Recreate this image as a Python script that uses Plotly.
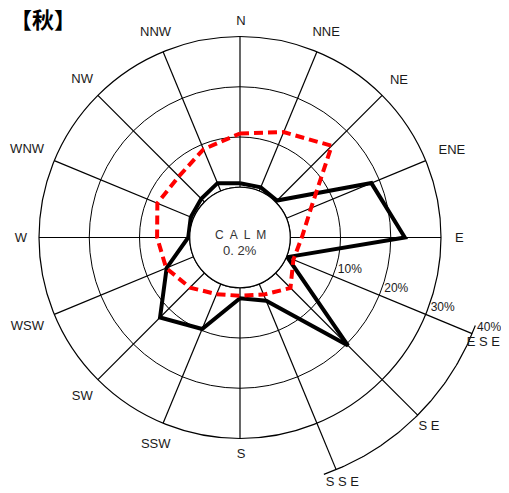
import math
import numpy as np
import plotly.graph_objects as go

# ---------------- data ----------------
directions = ['N', 'NNE', 'NE', 'ENE', 'E', 'ESE', 'SE', 'SSE',
              'S', 'SSW', 'SW', 'WSW', 'W', 'WNW', 'NW', 'NNW']
dir_labels = ['N', 'NNE', 'NE', 'ENE', 'E', 'E S E', 'S E', 'S S E',
              'S', 'SSW', 'SW', 'WSW', 'W', 'WNW', 'NW', 'NNW']
# black solid series (%)
freq_black = [0.8, 0.8, 0.4, 18.3, 22.8, 0.2, 20.4, 3.6,
              2.1, 9.7, 12.5, 5.8, 0.3, 0.6, 0.9, 1.7]
# red dashed series (%)
freq_red = [10.7, 12.7, 15.8, 5.3, 2.3, 1.5, 4.2, 2.3,
            1.6, 2.2, 4.1, 5.9, 6.5, 7.8, 7.2, 9.0]
ring_values = [10, 20, 30, 40]
ring_labels = ['10%', '20%', '30%', '40%']
calm_label = 'C\u2002A\u2002L\u2002M'
calm_value = '0. 2%'
title_text = '【秋】'
extended_dirs = ['ESE', 'SE', 'SSE']

# ---------------- geometry / style ----------------
FW, FH = 493, 485          # figure size (page body adds an 8px offset)
CX, CY = 232.0, 229.5      # rose centre in figure pixels
R_PX = 201.0               # radius of the 30 % ring
R_MAX = 30
HOLE = 0.25
HOLE_PX = R_PX * HOLE
S = (R_PX - HOLE_PX) / R_MAX          # pixels per percent
HOLE_U = HOLE_PX / S                  # hole radius in percent units
LABEL_SIZE = 13
LABEL_SHIFT = (1, -1)                 # px (right, up)
LINE_W = 1.2
FONT = 'Liberation Sans, Arial, sans-serif'
TXT = '#1a1a1a'

n = len(directions)
thetas = [360.0 * i / n for i in range(n)]
CHAR_W = {'N': .722, 'E': .667, 'S': .667, 'W': .944, ' ': .278}


def text_w(s, size):
    return sum(CHAR_W.get(c, .6) for c in s) * size


def xy(pct, th):
    u = pct + HOLE_U
    return u * math.sin(math.radians(th)), u * math.cos(math.radians(th))


fig = go.Figure()

# ---------- polar subplot: grid, spokes, CALM circle, series ----------
sp_r, sp_t = [], []
for th in thetas:
    sp_r += [0, R_MAX, None]
    sp_t += [th, th, None]
fig.add_trace(go.Scatterpolar(r=sp_r, theta=sp_t, mode='lines',
                              line=dict(color='black', width=LINE_W),
                              hoverinfo='skip', showlegend=False))
circ_t = np.linspace(0, 360, 361)
fig.add_trace(go.Scatterpolar(r=[0] * len(circ_t), theta=circ_t, mode='lines',
                              line=dict(color='black', width=LINE_W),
                              hoverinfo='skip', showlegend=False))
fig.add_trace(go.Scatterpolar(r=freq_black + freq_black[:1], theta=thetas + thetas[:1],
                              mode='lines', line=dict(color='black', width=4),
                              name='black', showlegend=False))
fig.add_trace(go.Scatterpolar(r=freq_red + freq_red[:1], theta=thetas + thetas[:1],
                              mode='lines', line=dict(color='#ff0000', width=4, dash='9px,5px'),
                              name='red', showlegend=False))

# ---------- cartesian overlay (same centre & scale): outer decorations ----------
ext_idx = [directions.index(d) for d in extended_dirs]
ex, ey = [], []
for i in ext_idx:
    x0, y0 = xy(R_MAX, thetas[i])
    x1, y1 = xy(ring_values[-1], thetas[i])
    ex += [x0, x1, None]
    ey += [y0, y1, None]
fig.add_trace(go.Scatter(x=ex, y=ey, mode='lines', line=dict(color='black', width=LINE_W),
                         hoverinfo='skip', showlegend=False))
arc_t = np.linspace(thetas[min(ext_idx)] - 2.0, thetas[max(ext_idx)] + 3.0, 80)
arc = [xy(ring_values[-1], t) for t in arc_t]
fig.add_trace(go.Scatter(x=[p[0] for p in arc], y=[p[1] for p in arc], mode='lines',
                         line=dict(color='black', width=LINE_W),
                         hoverinfo='skip', showlegend=False))

# direction labels
x_max_u = (FW - 1 - CX) / S
lx, ly = [], []
for d, lab, th in zip(directions, dir_labels, thetas):
    ext = d in extended_dirs
    end_px = HOLE_PX + (ring_values[-1] if ext else R_MAX) * S
    gap = 1 if ext else 10
    w = text_w(lab, LABEL_SIZE)
    hw = w / 2 + 3
    hh = 5.5
    s_, c_ = abs(math.sin(math.radians(th))), abs(math.cos(math.radians(th)))
    rr = (end_px + gap + hw * s_ + hh * c_) / S
    x = rr * math.sin(math.radians(th)) + LABEL_SHIFT[0] / S
    y = rr * math.cos(math.radians(th)) + LABEL_SHIFT[1] / S
    x = min(x, x_max_u - (w / 2) / S)      # keep the text inside the page
    lx.append(x)
    ly.append(y)
fig.add_trace(go.Scatter(x=lx, y=ly, mode='text', text=dir_labels, textposition='middle center',
                         cliponaxis=False,
                         textfont=dict(family=FONT, size=LABEL_SIZE, color=TXT),
                         hoverinfo='skip', showlegend=False))

# ring labels next to the ESE spoke
ese = thetas[directions.index('ESE')]
rx, ry = [], []
for v in ring_values:
    px, py = xy(v, ese)
    rx.append(px + 17 / S)
    ry.append(py + 6 / S)
fig.add_trace(go.Scatter(x=rx, y=ry, mode='text', text=ring_labels, textposition='middle center',
                         cliponaxis=False,
                         textfont=dict(family='Liberation Sans Narrow, Arial Narrow, Liberation Sans, sans-serif',
                                       size=12, color=TXT),
                         hoverinfo='skip', showlegend=False))

fig.update_layout(
    width=FW, height=FH,
    margin=dict(l=0, r=0, t=0, b=0, pad=0),
    paper_bgcolor='white', plot_bgcolor='white',
    showlegend=False,
    xaxis=dict(range=[-CX / S, (FW - CX) / S], visible=False, fixedrange=True),
    yaxis=dict(range=[-(FH - CY) / S, CY / S], visible=False, fixedrange=True),
    polar=dict(
        domain=dict(x=[(CX - R_PX) / FW, (CX + R_PX) / FW],
                    y=[1 - (CY + R_PX) / FH, 1 - (CY - R_PX) / FH]),
        hole=HOLE,
        bgcolor='rgba(0,0,0,0)',
        radialaxis=dict(range=[0, R_MAX], tickvals=ring_values[:2], showticklabels=False,
                        ticks='', showline=False, gridcolor='black', gridwidth=LINE_W),
        angularaxis=dict(rotation=90, direction='clockwise', showgrid=False,
                         showticklabels=False, ticks='', showline=True,
                         linecolor='black', linewidth=LINE_W),
    ),
    annotations=[
        dict(xref='paper', yref='paper', x=0, y=1 - 12.7 / FH, xanchor='left', yanchor='middle',
             text=title_text, showarrow=False,
             font=dict(family='Liberation Sans, Noto Sans CJK JP', size=22, color='black', weight=700)),
        dict(xref='x', yref='y', x=0, y=0, text=calm_label, showarrow=False,
             yshift=3, font=dict(family=FONT, size=12, color='#333333')),
        dict(xref='x', yref='y', x=0, y=0, text=calm_value, showarrow=False,
             yshift=-13, font=dict(family=FONT, size=13, color='#333333')),
    ],
)

fig.write_html('out.html')
